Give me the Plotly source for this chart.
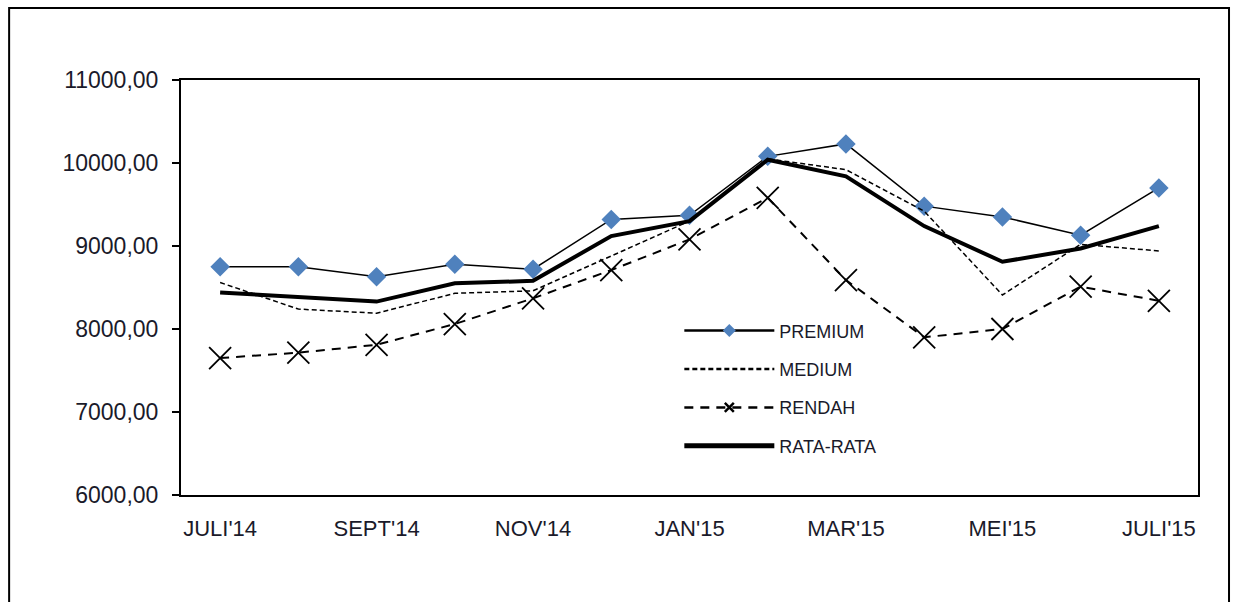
import plotly.graph_objects as go

# Monthly prices, July 2014 - July 2015
months = ["JULI'14", "AGT'14", "SEPT'14", "OKT'14", "NOV'14", "DES'14", "JAN'15",
          "FEB'15", "MAR'15", "APR'15", "MEI'15", "JUNI'15", "JULI'15"]
tick_labels = ["JULI'14", "", "SEPT'14", "", "NOV'14", "", "JAN'15",
               "", "MAR'15", "", "MEI'15", "", "JULI'15"]

premium = [8750, 8750, 8630, 8780, 8720, 9320, 9370, 10080, 10230, 9480, 9350, 9130, 9700]
medium = [8560, 8240, 8190, 8430, 8460, 8880, 9300, 10050, 9920, 9420, 8410, 9020, 8940]
rendah = [7650, 7715, 7810, 8060, 8370, 8710, 9080, 9580, 8590, 7900, 8000, 8510, 8340]
rata_rata = [8440, 8390, 8330, 8550, 8580, 9120, 9300, 10040, 9840, 9240, 8810, 8970, 9240]

y_ticks = [6000, 7000, 8000, 9000, 10000, 11000]
y_tick_text = ["6000,00", "7000,00", "8000,00", "9000,00", "10000,00", "11000,00"]

x_idx = list(range(len(months)))

# series styles: (name, values, line, marker for plot, marker for legend, legend line width)
series = [
    ("PREMIUM", premium,
     dict(color="black", width=1.5),
     dict(symbol="diamond", size=15, color="#4F81BD", line=dict(width=0)),
     dict(symbol="diamond", size=10, color="#4F81BD", line=dict(width=0)),
     2.5),
    ("MEDIUM", medium,
     dict(color="black", width=1.5, dash="5px,3px"),
     None, None, 2.5),
    ("RENDAH", rendah,
     dict(color="black", width=2, dash="9px,7px"),
     dict(symbol="x-thin-open", size=22, color="black", line=dict(width=1.8, color="black")),
     dict(symbol="x-thin-open", size=9, color="black", line=dict(width=2.5, color="black")),
     2.5),
    ("RATA-RATA", rata_rata,
     dict(color="black", width=4),
     None, None, 5),
]

fig = go.Figure()
for i, (name, vals, line, mk, mk_leg, leg_w) in enumerate(series):
    mode = "lines+markers" if mk else "lines"
    fig.add_trace(go.Scatter(
        x=x_idx, y=vals, name=name, mode=mode, line=line,
        marker=mk, showlegend=False,
    ))
    # legend entry with compact marker
    leg_line = dict(line)
    leg_line["width"] = leg_w
    fig.add_trace(go.Scatter(
        x=[None], y=[None], name=name, legendgroup=f"g{i}", mode=mode,
        line=leg_line, marker=mk_leg, showlegend=True,
    ))

# outer frame around the whole chart
fig.add_shape(type="rect", xref="paper", yref="paper",
              x0=-0.169, x1=1.0305, y0=-0.5, y1=1.1735,
              line=dict(color="black", width=2), fillcolor="rgba(0,0,0,0)",
              layer="below")

fig.update_layout(
    width=1238, height=602,
    margin=dict(l=181, r=40, t=80, b=107),
    paper_bgcolor="white", plot_bgcolor="white",
    font=dict(family="Liberation Sans, Arial, sans-serif", color="#1a1a2a"),
    showlegend=True,
    legend=dict(
        x=0.49, y=0.44, xanchor="left", yanchor="top",
        bgcolor="rgba(0,0,0,0)", font=dict(size=18, color="#1a1a2a"),
        traceorder="grouped", tracegroupgap=12, itemwidth=90,
    ),
    xaxis=dict(
        range=[-0.5, 12.5], tickmode="array", tickvals=x_idx, ticktext=tick_labels,
        showgrid=False, zeroline=False, showline=True, linecolor="black", linewidth=2,
        mirror=True, ticks="outside", ticklen=13, tickcolor="rgba(0,0,0,0)",
        tickfont=dict(size=22),
    ),
    yaxis=dict(
        range=[6000, 11000], tickmode="array", tickvals=y_ticks, ticktext=y_tick_text,
        showgrid=False, zeroline=False, showline=True, linecolor="black", linewidth=2,
        mirror=True, ticks="outside", ticklen=7, tickwidth=2, tickcolor="black",
        tickfont=dict(size=23), ticklabelstandoff=9,
    ),
)

fig.write_html("out.html")
